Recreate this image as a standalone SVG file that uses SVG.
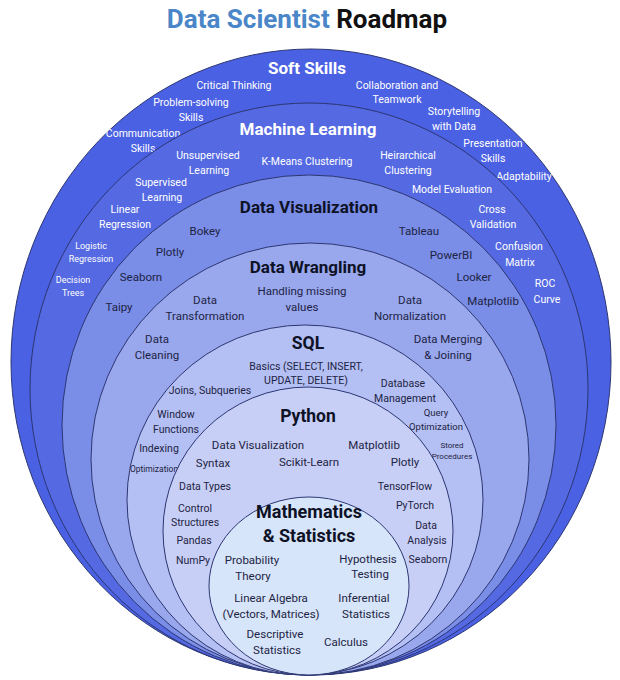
<svg xmlns="http://www.w3.org/2000/svg" width="620" height="680" viewBox="0 0 620 680">
<style>
text{font-family:Roboto,"Liberation Sans",Arial,sans-serif;text-anchor:middle}
.ring{stroke:#2c3672;stroke-width:1}
.w{fill:#ffffff;font-size:10.5px}
.hw{fill:#ffffff;font-size:17px;font-weight:700}
.d{fill:#1d2444;font-size:11.5px}
.ds{fill:#1d2444;font-size:10.5px}
.hd{fill:#0e1226;font-size:17px;font-weight:700}
.hd2{fill:#0e1226;font-size:17.5px;font-weight:700}
</style>
<rect width="620" height="680" fill="#ffffff"/>
<g id="title">
<text x="307" y="28" style="font-size:26px;font-weight:700"><tspan fill="#4a86c8">Data Scientist</tspan><tspan fill="#111111"> Roadmap</tspan></text>
</g>
<g id="soft-skills">
<ellipse class="ring" cx="311" cy="362" rx="300" ry="313" fill="#4b61e3"/>
<text class="hw" x="307" y="74">Soft Skills</text>
<text class="w" x="234" y="88.5">Critical Thinking</text>
<text class="w" x="191" y="105.5">Problem-solving</text>
<text class="w" x="191" y="120.5">Skills</text>
<text class="w" x="397" y="88.5">Collaboration and</text>
<text class="w" x="397" y="102.5">Teamwork</text>
<text class="w" x="454" y="114.5">Storytelling</text>
<text class="w" x="454" y="129.5">with Data</text>
<text class="w" x="143" y="136.5">Communication</text>
<text class="w" x="143" y="151.5">Skills</text>
<text class="w" x="493" y="146.5">Presentation</text>
<text class="w" x="493" y="161.5">Skills</text>
<text class="w" x="524" y="179.5">Adaptability</text>
</g>
<g id="machine-learning">
<ellipse class="ring" cx="309" cy="389" rx="279" ry="286" fill="#5469e2"/>
<text class="hw" x="308" y="135">Machine Learning</text>
<text class="w" x="208" y="158.5">Unsupervised</text>
<text class="w" x="209" y="173.5">Learning</text>
<text class="w" x="307" y="164.5">K-Means Clustering</text>
<text class="w" x="408" y="158.5">Heirarchical</text>
<text class="w" x="408" y="173.5">Clustering</text>
<text class="w" x="161" y="185.5">Supervised</text>
<text class="w" x="162" y="200.5">Learning</text>
<text class="w" x="452" y="192.5">Model Evaluation</text>
<text class="w" x="125" y="212.5">Linear</text>
<text class="w" x="125" y="227.5">Regression</text>
<text class="w" x="492" y="212.5">Cross</text>
<text class="w" x="493" y="227.5">Validation</text>
<text class="w" x="91" y="249" style="font-size:9px">Logistic</text>
<text class="w" x="91" y="262" style="font-size:9px">Regression</text>
<text class="w" x="519" y="249.5">Confusion</text>
<text class="w" x="520" y="265.5">Matrix</text>
<text class="w" x="73" y="283" style="font-size:9px">Decision</text>
<text class="w" x="73" y="296" style="font-size:9px">Trees</text>
<text class="w" x="545" y="286.5">ROC</text>
<text class="w" x="547" y="302.5">Curve</text>
</g>
<g id="data-visualization">
<ellipse class="ring" cx="309" cy="425" rx="247" ry="250" fill="#7a8de7"/>
<text class="hd" x="309" y="213">Data Visualization</text>
<text class="d" x="205" y="235">Bokey</text>
<text class="d" x="419" y="235">Tableau</text>
<text class="d" x="170" y="256">Plotly</text>
<text class="d" x="451" y="259">PowerBI</text>
<text class="d" x="141" y="281">Seaborn</text>
<text class="d" x="474" y="281">Looker</text>
<text class="d" x="119" y="311">Taipy</text>
<text class="d" x="493" y="305">Matplotlib</text>
</g>
<g id="data-wrangling">
<ellipse class="ring" cx="310" cy="459" rx="219" ry="216" fill="#99a7ed"/>
<text class="hd" x="308" y="273">Data Wrangling</text>
<text class="d" x="302" y="295">Handling missing</text>
<text class="d" x="302" y="311">values</text>
<text class="d" x="205" y="304">Data</text>
<text class="d" x="205" y="320">Transformation</text>
<text class="d" x="410" y="304">Data</text>
<text class="d" x="410" y="320">Normalization</text>
<text class="d" x="157" y="343">Data</text>
<text class="d" x="157" y="359">Cleaning</text>
<text class="d" x="448" y="343">Data Merging</text>
<text class="d" x="448" y="359">&amp; Joining</text>
</g>
<g id="sql">
<ellipse class="ring" cx="305" cy="500" rx="178" ry="175" fill="#b4bff3"/>
<text class="hd2" x="308" y="349">SQL</text>
<text class="ds" x="306" y="369.5">Basics (SELECT, INSERT,</text>
<text class="ds" x="306" y="383.5">UPDATE, DELETE)</text>
<text class="ds" x="210" y="393.5">Joins, Subqueries</text>
<text class="ds" x="403" y="386.5">Database</text>
<text class="ds" x="405" y="401.5">Management</text>
<text class="ds" x="176" y="417.5">Window</text>
<text class="ds" x="176" y="432.5">Functions</text>
<text class="ds" x="436" y="416" style="font-size:9.5px">Query</text>
<text class="ds" x="436" y="430" style="font-size:9.5px">Optimization</text>
<text class="ds" x="159" y="451.5">Indexing</text>
<text class="ds" x="452" y="447.5" style="font-size:8px">Stored</text>
<text class="ds" x="452" y="458.5" style="font-size:8px">Procedures</text>
<text class="ds" x="154" y="472" style="font-size:8.5px">Optimization</text>
</g>
<g id="python">
<ellipse class="ring" cx="308" cy="531" rx="145" ry="144" fill="#c8cff6"/>
<text class="hd2" x="308" y="422">Python</text>
<text class="d" x="258" y="449">Data Visualization</text>
<text class="d" x="374" y="449">Matplotlib</text>
<text class="d" x="213" y="467">Syntax</text>
<text class="d" x="309" y="466">Scikit-Learn</text>
<text class="d" x="405" y="466">Plotly</text>
<text class="ds" x="205" y="489.5">Data Types</text>
<text class="ds" x="405" y="489.5">TensorFlow</text>
<text class="ds" x="195" y="511.5">Control</text>
<text class="ds" x="195" y="525.5">Structures</text>
<text class="ds" x="415" y="508.5">PyTorch</text>
<text class="ds" x="426" y="528.5">Data</text>
<text class="ds" x="427" y="543.5">Analysis</text>
<text class="ds" x="194" y="543.5">Pandas</text>
<text class="ds" x="193" y="563.5">NumPy</text>
<text class="ds" x="428" y="562.5">Seaborn</text>
</g>
<g id="mathematics-statistics">
<ellipse class="ring" cx="309" cy="586" rx="100" ry="89" fill="#d7e5fa"/>
<text class="hd2" x="309" y="518" style="font-size:18px">Mathematics</text>
<text class="hd2" x="309" y="542" style="font-size:18px">&amp; Statistics</text>
<text class="d" x="252" y="564">Probability</text>
<text class="d" x="253" y="580">Theory</text>
<text class="d" x="368" y="563">Hypothesis</text>
<text class="d" x="370" y="578">Testing</text>
<text class="d" x="271" y="602">Linear Algebra</text>
<text class="d" x="271" y="618">(Vectors, Matrices)</text>
<text class="d" x="364" y="602">Inferential</text>
<text class="d" x="366" y="618">Statistics</text>
<text class="d" x="275" y="638">Descriptive</text>
<text class="d" x="277" y="654">Statistics</text>
<text class="d" x="346" y="646">Calculus</text>
</g>
</svg>
